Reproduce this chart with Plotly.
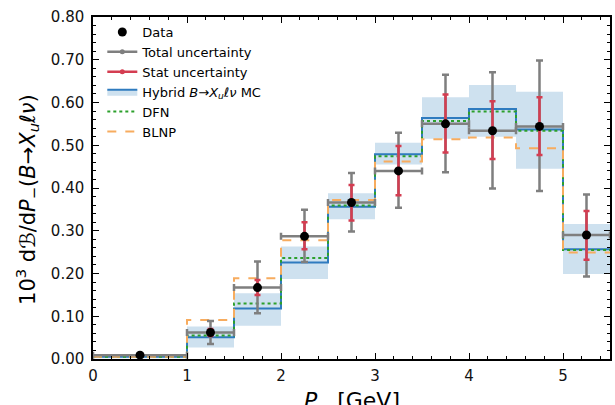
import plotly.graph_objects as go

# ---- data ----
edges = [0.0, 1.0, 1.5, 2.0, 2.5, 3.0, 3.5, 4.0, 4.5, 5.0, 5.5]
data_y = [0.009, 0.062, 0.167, 0.287, 0.366, 0.440, 0.550, 0.534, 0.544, 0.290]
tot_up = [0.013, 0.089, 0.228, 0.349, 0.435, 0.529, 0.665, 0.671, 0.698, 0.385]
tot_dn = [0.005, 0.035, 0.107, 0.227, 0.298, 0.354, 0.437, 0.399, 0.393, 0.193]
stat_up = [0.011, 0.070, 0.185, 0.320, 0.407, 0.498, 0.619, 0.603, 0.612, 0.346]
stat_dn = [0.007, 0.054, 0.150, 0.257, 0.324, 0.383, 0.483, 0.468, 0.477, 0.232]
hybrid = [0.005, 0.051, 0.118, 0.226, 0.356, 0.479, 0.564, 0.585, 0.537, 0.257]
band_hi = [0.008, 0.076, 0.154, 0.263, 0.388, 0.506, 0.612, 0.641, 0.625, 0.316]
band_lo = [0.002, 0.027, 0.078, 0.187, 0.327, 0.455, 0.515, 0.520, 0.445, 0.199]
dfn = [0.005, 0.055, 0.130, 0.236, 0.359, 0.474, 0.557, 0.579, 0.534, 0.255]
blnp = [0.005, 0.091, 0.189, 0.278, 0.372, 0.462, 0.514, 0.518, 0.493, 0.249]
x_ticks = [0, 1, 2, 3, 4, 5]
y_ticks = [0.0, 0.1, 0.2, 0.3, 0.4, 0.5, 0.6, 0.7, 0.8]

centers = [(a + b) / 2 for a, b in zip(edges[:-1], edges[1:])]
halfw = [(b - a) / 2 for a, b in zip(edges[:-1], edges[1:])]
widths = [b - a for a, b in zip(edges[:-1], edges[1:])]

GRAY = "#7f7f7f"
RED = "#d43d51"
BLUE = "#2f7bbf"
BAND = "rgba(31,119,180,0.22)"
GREEN = "#2ca02c"
ORANGE = "#f7ac5f"
FONT = "DejaVu Sans"

fig = go.Figure()

# band
fig.add_trace(go.Bar(
    x=centers, y=[h - l for h, l in zip(band_hi, band_lo)], base=band_lo,
    width=widths, marker=dict(color=BAND, line=dict(width=0)),
    showlegend=False, hoverinfo="skip"))


def step(vals):
    return edges, list(vals) + [vals[-1]]


for vals, col, dash in [(hybrid, BLUE, "solid"), (dfn, GREEN, "dot"), (blnp, ORANGE, "dash")]:
    sx, sy = step(vals)
    fig.add_trace(go.Scatter(x=sx, y=sy, mode="lines", line=dict(color=col, width=2, dash=dash, shape="hv"),
                             showlegend=False, hoverinfo="skip"))

# total uncertainty
fig.add_trace(go.Scatter(
    x=centers, y=data_y, mode="markers", marker=dict(size=1, color=GRAY, opacity=0),
    error_x=dict(type="data", array=halfw, color=GRAY, thickness=2.5, width=3.5),
    error_y=dict(type="data", array=[u - d for u, d in zip(tot_up, data_y)],
                 arrayminus=[d - l for d, l in zip(data_y, tot_dn)], color=GRAY, thickness=2.5, width=3.5),
    showlegend=False))
# stat uncertainty
fig.add_trace(go.Scatter(
    x=centers, y=data_y, mode="markers", marker=dict(size=1, color=RED, opacity=0),
    error_y=dict(type="data", array=[u - d for u, d in zip(stat_up, data_y)],
                 arrayminus=[d - l for d, l in zip(data_y, stat_dn)], color=RED, thickness=2.5, width=3),
    showlegend=False))
# data points
fig.add_trace(go.Scatter(x=centers, y=data_y, mode="markers", marker=dict(size=9, color="black"),
                         showlegend=False))

# legend entries
fig.add_trace(go.Scatter(x=[None], y=[None], mode="markers", marker=dict(size=9, color="black"), name="Data"))
fig.add_trace(go.Scatter(x=[None], y=[None], mode="lines+markers", marker=dict(size=5, color=GRAY),
                         line=dict(color=GRAY, width=2.5), name="Total uncertainty"))
fig.add_trace(go.Scatter(x=[None], y=[None], mode="lines+markers", marker=dict(size=5, color=RED),
                         line=dict(color=RED, width=2.5), name="Stat uncertainty"))
fig.add_trace(go.Scatter(x=[None], y=[None], mode="lines", fill="toself", fillcolor=BAND,
                         line=dict(color=BLUE, width=2),
                         name="Hybrid <i>B</i>→<i>X<sub>u</sub>ℓν</i> MC"))
fig.add_trace(go.Scatter(x=[None], y=[None], mode="lines", line=dict(color=GREEN, width=2, dash="dot"), name="DFN"))
fig.add_trace(go.Scatter(x=[None], y=[None], mode="lines", line=dict(color=ORANGE, width=2, dash="dash"), name="BLNP"))

axis_common = dict(showline=True, linecolor="black", linewidth=1.5, mirror="allticks",
                   ticks="inside", ticklen=6, tickwidth=1.2, tickcolor="black",
                   showgrid=False, zeroline=False,
                   tickfont=dict(family=FONT, size=15, color="#111"))

fig.update_xaxes(range=[0, 5.5], tickvals=x_ticks, ticktext=[str(v) for v in x_ticks],
                 ticklabelstandoff=2,
                 minor=dict(ticks="inside", ticklen=3, dtick=0.2, tick0=0, tickcolor="black", tickwidth=1),
                 **axis_common)
fig.update_yaxes(range=[0, 0.8], tickvals=y_ticks, ticktext=[f"{v:.2f}" for v in y_ticks],
                 ticklabelstandoff=4,
                 minor=dict(ticks="inside", ticklen=3, dtick=0.02, tick0=0, tickcolor="black", tickwidth=1),
                 **axis_common)

fig.add_annotation(xref="paper", yref="paper", x=0, y=0.465, xshift=-66, textangle=-90,
                   text="10<sup>3</sup> d<i>ℬ</i>/d<i>P</i><sub>−</sub>(<i>B</i>→<i>X<sub>u</sub>ℓν</i>)",
                   showarrow=False, font=dict(family=FONT, size=21, color="black"),
                   xanchor="center", yanchor="middle")
fig.add_annotation(xref="paper", yref="paper", x=0.5, y=0, yshift=-27,
                   text="<i>P</i><sub>−</sub> [GeV]", showarrow=False,
                   font=dict(family=FONT, size=22, color="black"), xanchor="center", yanchor="top")

fig.update_layout(
    width=615, height=405,
    margin=dict(l=93, r=3, t=17, b=46),
    paper_bgcolor="white", plot_bgcolor="white",
    showlegend=True,
    legend=dict(x=0.018, y=1.0, xanchor="left", yanchor="top", bgcolor="rgba(0,0,0,0)",
                font=dict(family=FONT, size=13, color="black"), tracegroupgap=0),
    font=dict(family=FONT),
)

fig.write_html("out.html")
